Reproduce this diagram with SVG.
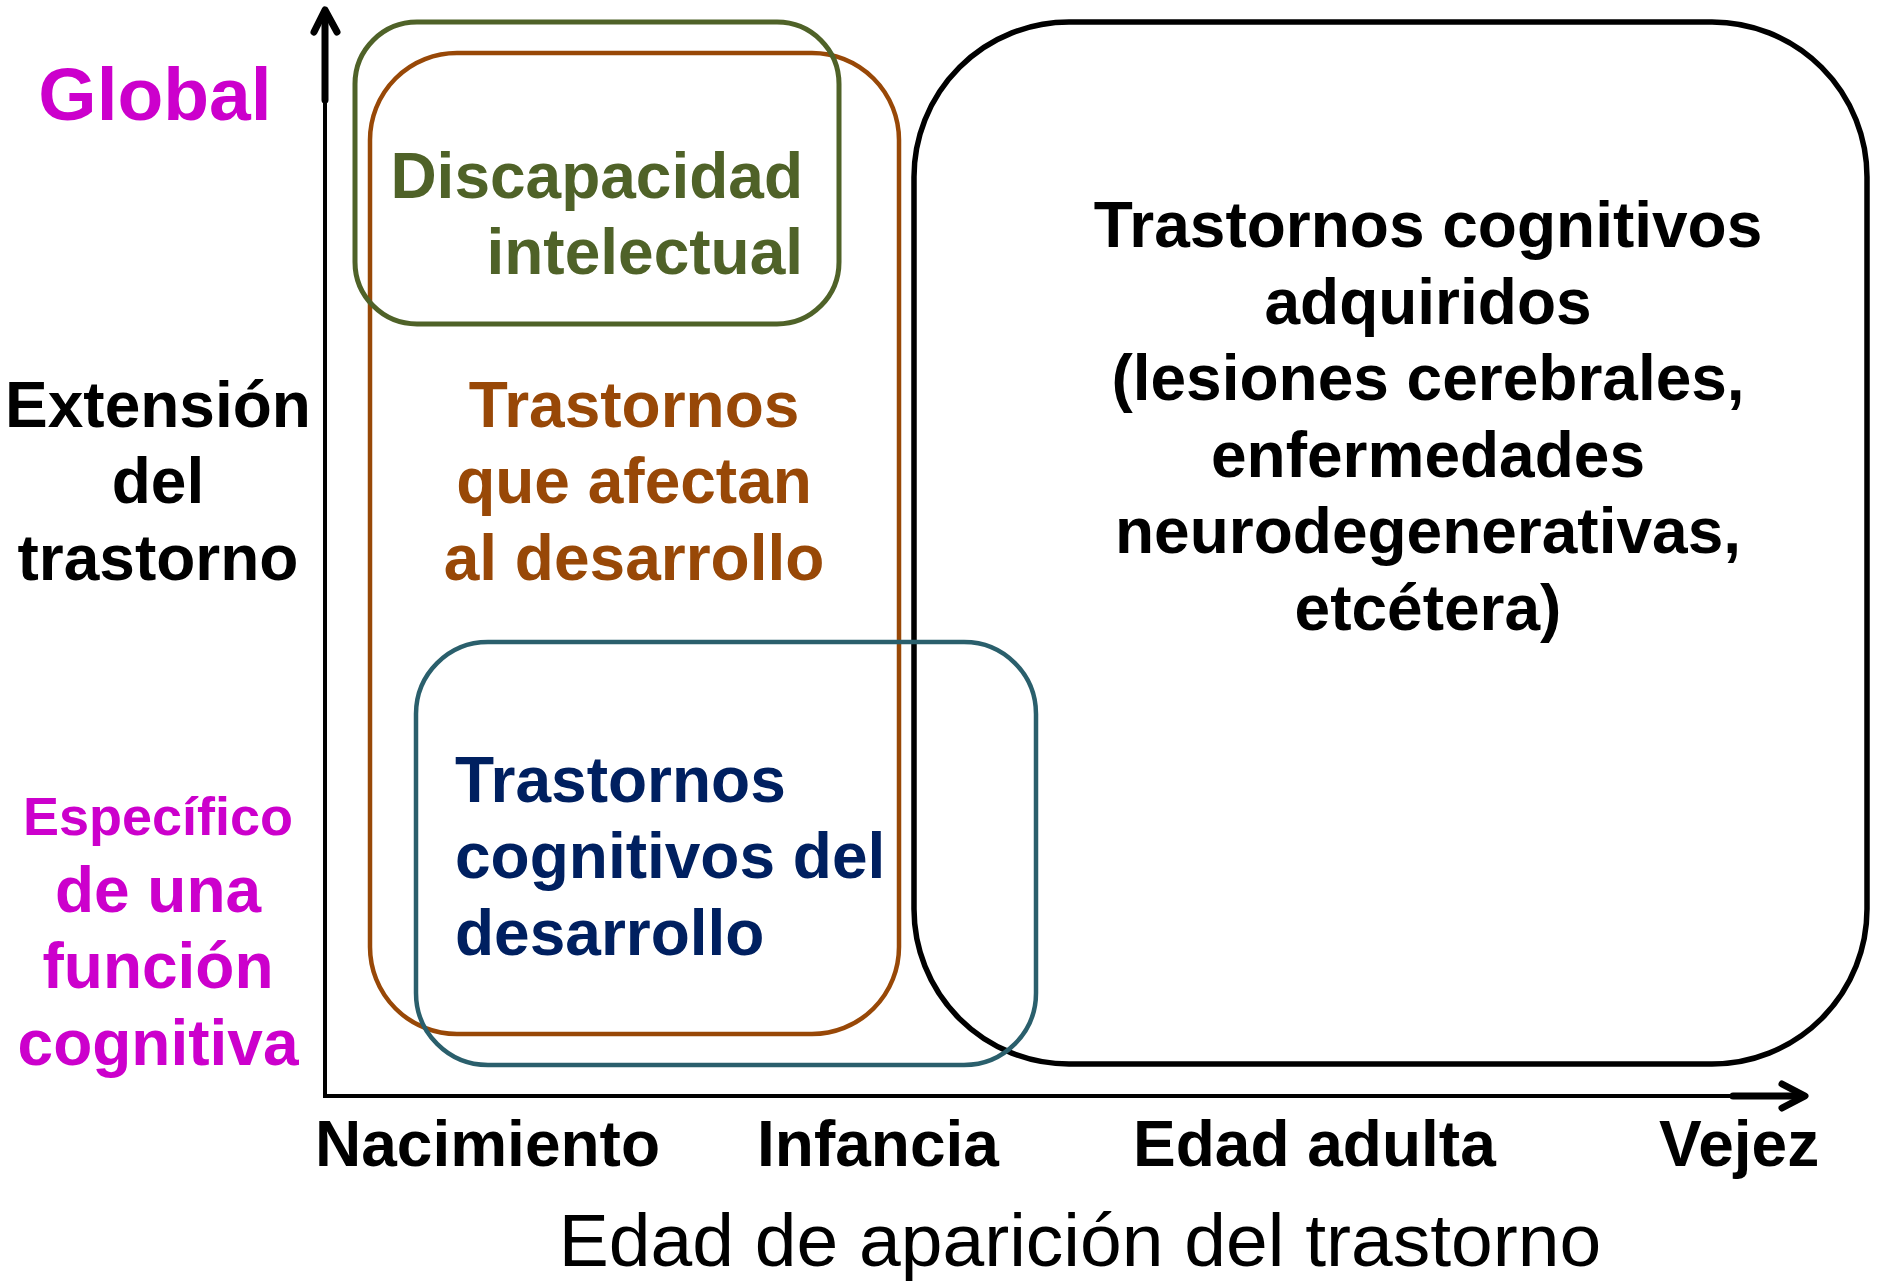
<svg xmlns="http://www.w3.org/2000/svg" width="1878" height="1282" viewBox="0 0 1878 1282">
<style>
  text { font-family: "Liberation Sans", Arial, sans-serif; font-weight: bold; font-size: 64px; }
  .box { fill: none; }
  .axis { stroke: #000; stroke-width: 4; fill: none; }
  .head { stroke: #000; stroke-width: 7; fill: none; stroke-linecap: round; stroke-linejoin: round; }
  .mag { fill: #CC00CC; }
  .c { text-anchor: middle; }
</style>
<rect width="1878" height="1282" fill="#fff"/>

<g id="acquired">
  <rect class="box" x="914" y="22" width="953" height="1042" rx="155" ry="155" stroke="#000" stroke-width="5.5"/>
  <text class="c" x="1428" y="247">Trastornos cognitivos</text>
  <text class="c" x="1428" y="324">adquiridos</text>
  <text class="c" x="1428" y="400">(lesiones cerebrales,</text>
  <text class="c" x="1428" y="477">enfermedades</text>
  <text class="c" x="1428" y="553">neurodegenerativas,</text>
  <text class="c" x="1428" y="630">etcétera)</text>
</g>

<g id="development">
  <rect class="box" x="370" y="53" width="529" height="981" rx="87" ry="87" stroke="#984807" stroke-width="4.5"/>
  <text class="c" x="634" y="427" fill="#984807">Trastornos</text>
  <text class="c" x="634" y="503" fill="#984807">que afectan</text>
  <text class="c" x="634" y="580" fill="#984807">al desarrollo</text>
</g>

<g id="intellectual">
  <rect class="box" x="355" y="22" width="484" height="302" rx="62" ry="62" stroke="#4F6228" stroke-width="5"/>
  <text x="803" y="198" text-anchor="end" fill="#4F6228">Discapacidad</text>
  <text x="803" y="274" text-anchor="end" fill="#4F6228">intelectual</text>
</g>

<g id="cognitive-dev">
  <rect class="box" x="416" y="642" width="620" height="423" rx="72" ry="72" stroke="#2A5F6C" stroke-width="4.5"/>
  <text x="455" y="802" fill="#002060">Trastornos</text>
  <text x="455" y="878" fill="#002060">cognitivos del</text>
  <text x="455" y="955" fill="#002060">desarrollo</text>
</g>

<g id="connectors">
  <line class="axis" x1="325" y1="1096" x2="325" y2="12"/>
  <line class="head" x1="325" y1="100" x2="325" y2="12"/>
  <polyline class="head" points="314,32 325,10 337,32"/>
  <line class="axis" x1="323" y1="1096" x2="1803" y2="1096"/>
  <line class="head" x1="1733" y1="1096" x2="1803" y2="1096"/>
  <polyline class="head" points="1782,1084 1805,1096 1782,1108"/>
</g>

<g id="y-labels">
  <text class="c mag" x="155" y="120" style="font-size:75px">Global</text>
  <text class="c" x="158" y="427">Extensión</text>
  <text class="c" x="158" y="503">del</text>
  <text class="c" x="158" y="580">trastorno</text>
  <text class="c mag" x="158" y="835" style="font-size:54px">Específico</text>
  <text class="c mag" x="158" y="912">de una</text>
  <text class="c mag" x="158" y="988">función</text>
  <text class="c mag" x="158" y="1065">cognitiva</text>
</g>

<g id="x-labels">
  <text x="315" y="1166">Nacimiento</text>
  <text x="757" y="1166">Infancia</text>
  <text x="1133" y="1166">Edad adulta</text>
  <text x="1659" y="1166">Vejez</text>
  <text class="c" x="1080" y="1266" style="font-weight:normal;font-size:75px">Edad de aparición del trastorno</text>
</g>
</svg>
